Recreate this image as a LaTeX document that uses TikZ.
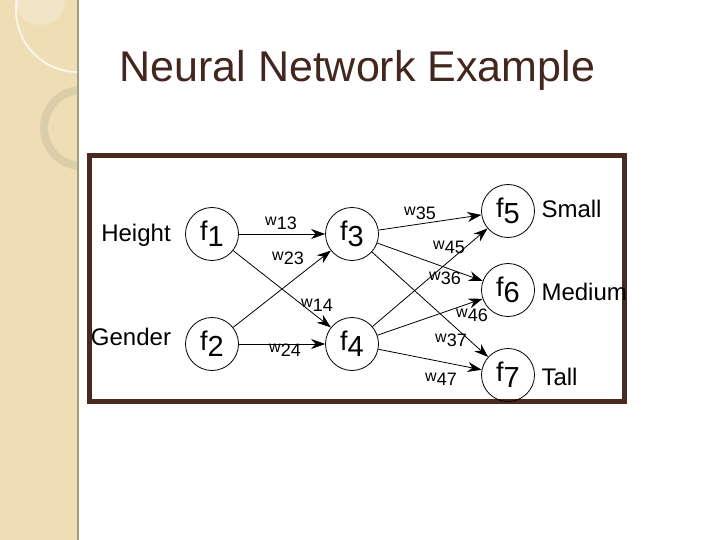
\documentclass[tikz,border=0pt]{standalone}
\usepackage{fontspec}
\setmainfont{Liberation Sans}
\usetikzlibrary{arrows.meta}
\definecolor{brn}{HTML}{4A2A20}
\definecolor{beige}{HTML}{EEDDB5}
\begin{document}
\begin{tikzpicture}[x=1pt,y=-1pt,
  neu/.style={circle,draw,line width=0.8pt,minimum size=53pt,inner sep=0pt,font=\fontsize{27}{27}\selectfont},
  lab/.style={font=\fontsize{24}{24}\selectfont},
  wl/.style={font=\fontsize{16}{16}\selectfont,inner sep=0pt},
  con/.style={-{Stealth[length=14pt,width=10pt]},line width=0.8pt}]
\useasboundingbox (0,0) rectangle (720,540);
\fill[white] (0,0) rectangle (720,540);
\fill[beige] (0,0) rectangle (78,540);
\draw[line width=1.5pt,color=beige!70!black] (78,0) -- (78,540);
\begin{scope}
\clip (0,0) rectangle (77,540);
\draw[line width=2pt,color=white!70!beige] (78,10) circle (62);
\fill[white,opacity=0.25] (40,0) circle (25);
\draw[line width=8pt,color=beige!85!black!90,opacity=0.6] (82,128) circle (38);
\end{scope}
\draw[line width=5pt,color=brn] (89.5,155.5) rectangle (624.5,401.5);
\node[font=\fontsize{43}{43}\selectfont,color=brn!90!black,anchor=west] (title) at (116,70) {Neural Network Example};
\node[neu] (f1) at (212,234) {f\raisebox{-6pt}{\fontsize{29}{29}\selectfont 1}};
\node[neu] (f2) at (212,344) {f\raisebox{-6pt}{\fontsize{29}{29}\selectfont 2}};
\node[neu] (f3) at (352,234) {f\raisebox{-6pt}{\fontsize{29}{29}\selectfont 3}};
\node[neu] (f4) at (352,344) {f\raisebox{-6pt}{\fontsize{29}{29}\selectfont 4}};
\node[neu] (f5) at (508,211) {f\raisebox{-6pt}{\fontsize{29}{29}\selectfont 5}};
\node[neu] (f6) at (508,290) {f\raisebox{-6pt}{\fontsize{29}{29}\selectfont 6}};
\node[neu] (f7) at (508,375) {f\raisebox{-6pt}{\fontsize{29}{29}\selectfont 7}};
\node[lab] (h) at (136,235) {Height};
\node[lab] (g) at (131,337) {Gender};
\node[lab,anchor=west] (s) at (538,209) {Small};
\node[lab,anchor=west] (m) at (538,292) {Medium};
\node[lab,anchor=west] (t) at (538,377) {Tall};
\foreach \a/\b in {f1/f3,f1/f4,f2/f3,f2/f4,f3/f5,f3/f6,f3/f7,f4/f5,f4/f6,f4/f7}
  \draw[con] (\a) -- (\b);
\newcommand{\wlab}[3]{\node[wl] (w#1) at (#2,#3) {w\raisebox{-4pt}{\fontsize{18}{18}\selectfont #1}};}
\wlab{13}{281}{223}
\wlab{23}{288}{258}
\wlab{14}{317}{305}
\wlab{24}{285}{350}
\wlab{35}{420}{213}
\wlab{45}{449}{247}
\wlab{36}{445}{278}
\wlab{46}{472}{315}
\wlab{37}{451}{340}
\wlab{47}{441}{379}
\end{tikzpicture}
\end{document}
